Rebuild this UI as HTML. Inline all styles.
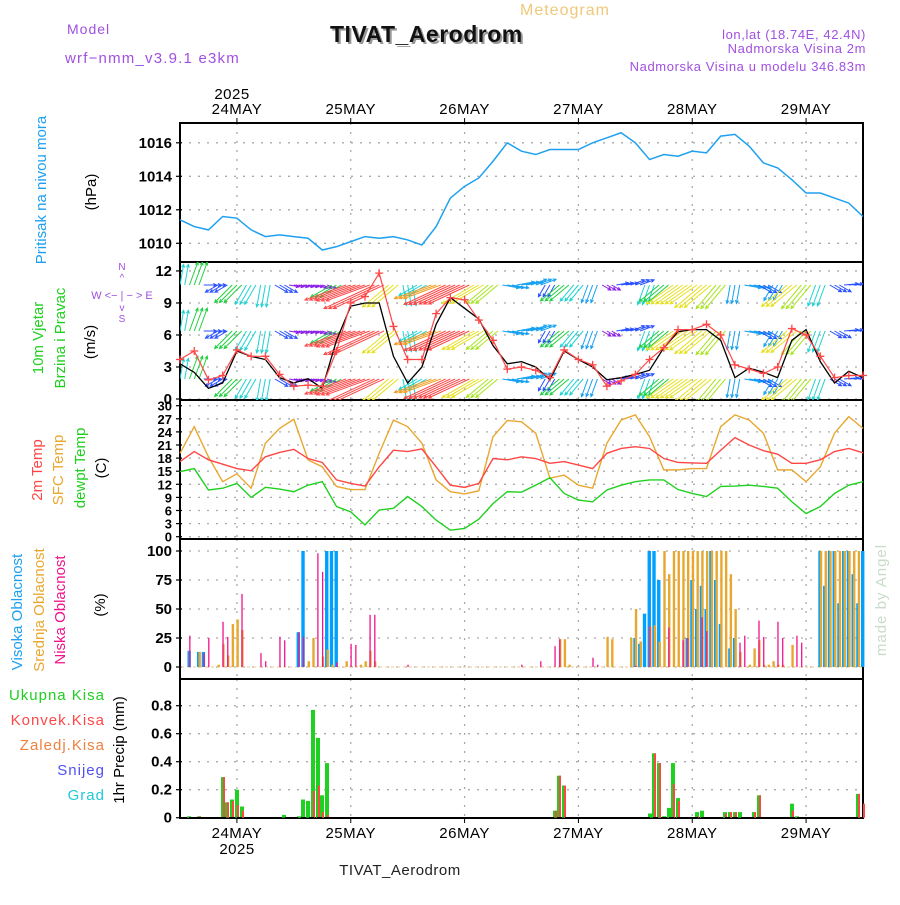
<!DOCTYPE html>
<html><head><meta charset="utf-8"><style>
body{margin:0;background:#fff}
svg text{font-family:"Liberation Sans",sans-serif}
</style></head><body>
<svg id="chart" width="900" height="900" viewBox="0 0 900 900" xmlns="http://www.w3.org/2000/svg">
<defs>
<clipPath id="cw"><rect x="180" y="262" width="683" height="138"/></clipPath>
</defs>
<g id="static"></g>
<g id="marks"></g>
</svg>
<script>
// ---------- DATA ----------
const dayLabels = ["24MAY","25MAY","26MAY","27MAY","28MAY","29MAY"];
const dayHours = [12,36,60,84,108,132];
const pressTicks = [1010,1012,1014,1016];
const windTicks = [0,3,6,9,12];
const tempTicks = [0,3,6,9,12,15,18,21,24,27,30];
const cloudTicks = [0,25,50,75,100];
const precipTicks = [0,0.2,0.4,0.6,0.8];
// 3-hourly series (hour 0..144)
const pressure = [1011.4,1011.0,1010.8,1011.6,1011.5,1010.8,1010.4,1010.5,1010.4,1010.3,1009.6,1009.8,1010.1,1010.4,1010.3,1010.4,1010.2,1009.9,1011.0,1012.7,1013.4,1013.9,1014.9,1016.0,1015.5,1015.3,1015.6,1015.6,1015.6,1016.0,1016.3,1016.6,1016.0,1015.0,1015.3,1015.2,1015.5,1015.4,1016.4,1016.5,1015.8,1014.8,1014.5,1013.8,1013.0,1013.0,1012.7,1012.4,1011.6];
const windSpeed = [3.7,4.5,1.8,2.2,4.6,4.0,4.0,2.3,1.2,1.3,1.2,4.5,9.0,9.6,11.8,6.8,3.7,3.7,8.0,9.5,9.3,7.4,5.5,2.8,3.0,2.7,2.0,4.6,3.7,3.2,1.2,1.7,2.3,3.7,4.8,6.5,6.5,7.0,6.0,3.2,2.8,2.4,3.0,6.6,6.0,4.0,2.0,2.2,2.2];
const windSpeedModel = [3.3,2.5,1.0,1.5,4.5,4.0,3.7,2.0,1.5,1.9,1.0,5.5,8.7,9.0,9.0,4.0,1.5,3.0,7.0,9.5,8.5,7.5,5.0,3.3,3.5,3.0,1.8,4.5,3.7,3.0,1.8,2.0,2.3,2.7,4.8,6.3,6.5,6.5,5.5,2.0,2.9,2.5,2.0,5.5,6.5,3.5,1.5,2.6,2.0];
const windDir = [190,200,270,60,45,30,10,300,280,280,290,60,70,70,65,50,350,60,70,65,65,60,50,280,260,250,30,50,40,20,300,260,250,20,50,55,55,50,40,10,280,300,30,50,40,20,300,265,265];
const temp2m = [17.2,19.5,17.6,16.6,15.6,15.1,18.3,19.3,20.0,17.9,17.0,13.0,12.2,11.6,16.0,19.8,19.5,20.1,16.0,11.8,11.3,12.2,17.9,17.6,18.3,17.9,16.8,17.2,16.4,15.6,19.1,20.2,20.6,20.2,17.9,17.0,16.9,16.8,19.8,22.7,21.0,19.7,18.9,16.8,16.8,17.6,19.5,20.2,19.2];
const tempSfc = [19.1,25.2,18.3,12.6,14.4,11.1,21.4,24.8,26.9,17.6,16.0,11.5,10.8,10.8,19.1,26.7,25.2,21.4,13.0,10.3,9.8,10.5,22.9,26.6,26.3,23.7,13.4,14.1,11.8,11.1,21.4,26.7,27.9,22.9,15.3,15.3,15.6,15.6,25.2,27.9,26.7,23.7,15.3,15.3,12.6,16.0,23.7,27.5,24.8];
const dewpoint = [14.9,15.6,10.7,11.1,12.2,9.0,11.3,10.9,10.3,11.8,12.6,6.9,5.7,2.7,6.1,6.5,9.2,6.9,3.8,1.5,1.9,4.0,7.6,10.3,10.2,11.8,13.5,9.9,8.4,8.0,10.7,11.8,12.6,13.0,13.0,10.8,9.9,9.2,11.5,11.6,11.8,11.5,11.1,8.0,5.3,6.9,9.9,11.8,12.6];
// hourly cloud cover [hour, %]
const cloudHigh = [[2,14],[4,13],[5,13],[25,30],[26,100],[31,100],[32,100],[33,100],[96,25],[97,20],[98,46],[99,100],[100,100],[101,75],[107,25],[108,75],[109,50],[110,70],[111,50],[112,100],[113,75],[114,37],[116,16],[117,25],[135,100],[136,70],[137,100],[138,100],[139,55],[140,100],[141,100],[142,80],[143,55],[144,100]];
const cloudMid = [[4,13],[8,2],[9,20],[10,10],[11,37],[12,41],[13,32],[27,5],[28,25],[30,9],[31,15],[32,2],[35,5],[38,2],[39,5],[40,14],[41,5],[80,24],[81,24],[82,2],[90,26],[91,24],[95,25],[96,50],[97,22],[99,35],[100,36],[101,22],[102,100],[103,80],[104,100],[105,100],[106,100],[107,100],[108,100],[109,100],[110,100],[111,100],[112,100],[113,100],[114,100],[115,100],[116,80],[117,50],[118,13],[120,2],[121,16],[122,23],[123,2],[124,2],[125,5],[126,2],[127,2],[129,19],[135,100],[136,100],[137,100],[138,100],[139,100],[140,100],[141,100],[142,100],[143,100]];
const cloudLow = [[2,27],[5,12],[6,25],[9,39],[10,26],[13,63],[17,12],[18,5],[21,26],[22,23],[25,30],[26,26],[29,98],[30,82],[33,4],[36,20],[37,19],[40,45],[41,45],[48,2],[72,2],[76,5],[79,18],[80,24],[87,8],[88,2],[96,1],[99,35],[103,34],[106,23],[107,25],[110,43],[111,31],[118,21],[119,27],[122,40],[123,26],[126,39],[127,25],[130,27],[131,21]];
// hourly precip [hour, mm]
const precipTotal = [[2,0.01],[4,0.01],[9,0.29],[10,0.11],[11,0.13],[12,0.2],[13,0.08],[22,0.02],[25,0.01],[26,0.13],[27,0.12],[28,0.77],[29,0.57],[30,0.16],[31,0.39],[79,0.05],[80,0.3],[81,0.23],[99,0.03],[100,0.46],[101,0.39],[102,0.01],[103,0.07],[104,0.39],[105,0.14],[109,0.04],[110,0.05],[115,0.04],[116,0.04],[117,0.04],[118,0.04],[121,0.04],[122,0.16],[129,0.1],[130,0.01],[143,0.17]];
const precipConv = [[4,0.01],[9,0.29],[10,0.11],[11,0.12],[12,0.09],[13,0.05],[28,0.19],[29,0.23],[30,0.04],[31,0.02],[79,0.05],[80,0.3],[81,0.23],[100,0.46],[101,0.39],[104,0.24],[105,0.12],[109,0.01],[115,0.03],[116,0.04],[117,0.04],[121,0.04],[122,0.16],[129,0.05],[143,0.17],[144,0.1]];

// ---------- SCALES ----------
const X = h => 180 + h*683/144;
const Yp = v => 243.3 - (v-1010)*16.75;
const Yw = v => 399 - v*10.67;
const Yt = v => 536.7 - v*4.367;
const Yc = v => 667 - v*1.16;
const Yr = v => 817.7 - v*140;
const NS = "http://www.w3.org/2000/svg";
const st = document.getElementById('static');
const mk = document.getElementById('marks');
function el(tag, attrs, parent, txt){
  const e = document.createElementNS(NS, tag);
  for (const k in attrs) e.setAttribute(k, attrs[k]);
  if (txt !== undefined) e.textContent = txt;
  parent.appendChild(e); return e;
}

// ---------- GRID & AXES ----------
const panels = [
  {top:123,bot:262,ticks:pressTicks,Y:Yp,fmt:v=>String(v),name:'pressure'},
  {top:262,bot:400,ticks:windTicks,Y:Yw,fmt:v=>String(v),name:'wind'},
  {top:400,bot:539,ticks:tempTicks,Y:Yt,fmt:v=>String(v),name:'temp'},
  {top:539,bot:679,ticks:cloudTicks,Y:Yc,fmt:v=>String(v),name:'cloud'},
  {top:679,bot:818,ticks:precipTicks,Y:Yr,fmt:v=>v===0?'0':v.toFixed(1),name:'precip'}
];
panels.forEach(p=>{
  p.ticks.forEach(t=>{
    const y = p.Y(t);
    const g = el('line',{x1:180,x2:863,y1:y,y2:y,stroke:'#aaa','stroke-width':1.3,'stroke-dasharray':'2,7'},st);
    
    
    const lb = el('text',{x:172,y:y+5,'text-anchor':'end','font-size':p.name==='temp'?13:15,fill:'#000','font-weight':'bold'},st,p.fmt(t));
    
    
    el('line',{x1:176,x2:182,y1:y,y2:y,stroke:'#000','stroke-width':1.2},st);
  });
  dayHours.forEach(h=>{
    const v = el('line',{x1:X(h),x2:X(h),y1:p.top,y2:p.bot,stroke:'#aaa','stroke-width':1.3,'stroke-dasharray':'2,7'},st);
    
    
  });
  const r = el('rect',{x:180,y:p.top,width:683,height:p.bot-p.top,fill:'none',stroke:'#000','stroke-width':2},st);
  
  
});
dayHours.forEach((h,i)=>{
  const t1 = el('text',{x:X(h),y:114,'text-anchor':'middle','font-size':15,'letter-spacing':0.5,fill:'#000'},st,dayLabels[i]);
  
  
  const t2 = el('text',{x:X(h),y:838,'text-anchor':'middle','font-size':15,'letter-spacing':0.5,fill:'#000'},st,dayLabels[i]);
  
  
  el('line',{x1:X(h),x2:X(h),y1:118,y2:123,stroke:'#000'},st);
  el('line',{x1:X(h),x2:X(h),y1:818,y2:823,stroke:'#000'},st);
});

// ---------- PRESSURE ----------
const pp = el('polyline',{points:pressure.map((v,i)=>X(i*3)+','+Yp(v)).join(' '),fill:'none',stroke:'#1ea0f0','stroke-width':1.5},mk);



// ---------- WIND ----------
const wg = el('g',{'clip-path':'url(#cw)'},mk);
function windColor(s){
  if (s<1.5) return '#8a1ee6'; if (s<2.5) return '#2850ff'; if (s<3.5) return '#14a0f0';
  if (s<4.5) return '#1ed2d2'; if (s<5.5) return '#20d040'; if (s<6.5) return '#a8e41e';
  if (s<7.5) return '#e6e01e'; if (s<8.5) return '#f0a028'; return '#ff4646';
}
const rowY = [285,331,379];
rowY.forEach(ry=>{
  for (let h=0; h<=144; h++){
    const i = Math.round(h/3);
    const s = windSpeed[i], d = windDir[i]*Math.PI/180;
    const L = 5 + 4.3*s;
    const x0 = X(h), y0 = ry;
    const x1 = x0 - Math.sin(d)*L, y1 = y0 + Math.cos(d)*L;
    const ang = Math.atan2(y1-y0, x1-x0);
    const hx1 = x1 - 3.5*Math.cos(ang-0.45), hy1 = y1 - 3.5*Math.sin(ang-0.45);
    const hx2 = x1 - 3.5*Math.cos(ang+0.45), hy2 = y1 - 3.5*Math.sin(ang+0.45);
    const a = el('path',{d:`M${x0},${y0}L${x1},${y1}M${hx1},${hy1}L${x1},${y1}L${hx2},${hy2}`,stroke:windColor(s),'stroke-width':1,fill:'none'},wg);
    
    
  }
});
const wm = el('polyline',{points:windSpeedModel.map((v,i)=>X(i*3)+','+Yw(v)).join(' '),fill:'none',stroke:'#000','stroke-width':1.3},mk);


const ws = el('polyline',{points:windSpeed.map((v,i)=>X(i*3)+','+Yw(v)).join(' '),fill:'none',stroke:'#ff4646','stroke-width':1.2},mk);


windSpeed.forEach((v,i)=>{
  const x=X(i*3), y=Yw(v);
  const m = el('path',{d:`M${x-4},${y}H${x+4}M${x},${y-4}V${y+4}`,stroke:'#ff4646','stroke-width':1.3},mk);
  
  
});

// ---------- TEMPERATURE ----------
[[tempSfc,'#e8a830','sfc-temp-line'],[temp2m,'#ff4646','2m-temp-line'],[dewpoint,'#20d020','dewpoint-line']].forEach(([arr,c,n])=>{
  const l = el('polyline',{points:arr.map((v,i)=>X(i*3)+','+Yt(v)).join(' '),fill:'none',stroke:c,'stroke-width':1.4},mk);
  
  
});

// ---------- CLOUDS ----------
el('line',{x1:181,x2:862,y1:Yc(0),y2:Yc(0),stroke:'#e8c890','stroke-width':1,'stroke-dasharray':'3,3'},mk);
cloudHigh.forEach(([h,v])=>{
  const b = el('rect',{x:X(h)-2,y:Yc(v),width:3.4,height:Yc(0)-Yc(v),fill:'#00a0ff'},mk);
  
  
});
cloudMid.forEach(([h,v])=>{
  const b = el('rect',{x:X(h)-0.5,y:Yc(v),width:2.4,height:Yc(0)-Yc(v),fill:'#e8a830'},mk);
  
  
});
cloudLow.forEach(([h,v])=>{
  const b = el('rect',{x:X(h)-0.3,y:Yc(v),width:1.3,height:Yc(0)-Yc(v),fill:'#f0148c'},mk);
  
  
});

// ---------- PRECIP ----------
precipTotal.forEach(([h,v])=>{
  const b = el('rect',{x:Math.round(X(h))-2,y:Yr(v),width:4,height:Yr(0)-Yr(v),fill:'#20d020'},mk);
  
  
});
precipConv.forEach(([h,v])=>{
  const b = el('rect',{x:Math.round(X(h)),y:Yr(v),width:2,height:Yr(0)-Yr(v),fill:'#ff4646'},mk);
  
  
});
el('line',{x1:181,x2:862,y1:Yr(0),y2:Yr(0),stroke:'#000','stroke-width':1.5,'stroke-dasharray':'5,3'},mk);
</script>
<svg width="900" height="900" style="position:absolute;left:0;top:0;pointer-events:none" xmlns="http://www.w3.org/2000/svg">
<text x="520" y="15" font-size="16" fill="#f0c878" letter-spacing="1">Meteogram</text>
<text x="332" y="44" font-size="23" font-weight="bold" fill="#999" letter-spacing="0.5">TIVAT_Aerodrom</text>
<text x="330" y="42" font-size="23" font-weight="bold" fill="#111" letter-spacing="0.5">TIVAT_Aerodrom</text>
<text x="67" y="34" font-size="14" fill="#a050e0" letter-spacing="1">Model</text>
<text x="65" y="63" font-size="15" fill="#a050e0" letter-spacing="1.2">wrf−nmm_v3.9.1 e3km</text>
<text x="866" y="39" font-size="13" fill="#a050e0" text-anchor="end" letter-spacing="0.6">lon,lat (18.74E, 42.4N)</text>
<text x="866" y="53" font-size="13" fill="#a050e0" text-anchor="end" letter-spacing="0.6">Nadmorska Visina 2m</text>
<text x="866" y="71" font-size="13" fill="#a050e0" text-anchor="end" letter-spacing="0.6">Nadmorska Visina u modelu 346.83m</text>
<text x="232" y="99" font-size="15" text-anchor="middle" letter-spacing="0.5">2025</text>
<text x="237" y="854" font-size="15" text-anchor="middle" letter-spacing="0.5">2025</text>
<text x="400" y="875" font-size="15" text-anchor="middle" fill="#222" font-family="Liberation Serif" letter-spacing="0.5">TIVAT_Aerodrom</text>
<text transform="translate(886,600) rotate(-90)" font-size="15" fill="#c8dcc8" text-anchor="middle" letter-spacing="1">made by Angel</text>
<text transform="translate(46,190) rotate(-90)" font-size="15" fill="#1ea0f0" text-anchor="middle">Pritisak na nivou mora</text>
<text transform="translate(96,192) rotate(-90)" font-size="15" fill="#000" text-anchor="middle">(hPa)</text>
<text transform="translate(43,338) rotate(-90)" font-size="15" fill="#20d020" text-anchor="middle">10m Vjetar</text>
<text transform="translate(65,338) rotate(-90)" font-size="15" fill="#20d020" text-anchor="middle">Brzina i Pravac</text>
<text transform="translate(95,342) rotate(-90)" font-size="15" fill="#000" text-anchor="middle">(m/s)</text>
<g fill="#a050e0" font-size="10">
<text x="122" y="270" text-anchor="middle">N</text>
<text x="122" y="281" text-anchor="middle">^</text>
<text x="122" y="299" text-anchor="middle" font-size="11">W &lt;− | − &gt; E</text>
<text x="122" y="311" text-anchor="middle">v</text>
<text x="122" y="322" text-anchor="middle">S</text>
</g>
<text transform="translate(42,470) rotate(-90)" font-size="15" fill="#ff4646" text-anchor="middle">2m Temp</text>
<text transform="translate(63,470) rotate(-90)" font-size="15" fill="#e8a830" text-anchor="middle">SFC Temp</text>
<text transform="translate(85,468) rotate(-90)" font-size="15" fill="#20d020" text-anchor="middle">dewpt Temp</text>
<text transform="translate(106,468) rotate(-90)" font-size="15" fill="#000" text-anchor="middle">(C)</text>
<text transform="translate(22,612) rotate(-90)" font-size="15" fill="#1ea0f0" text-anchor="middle">Visoka Oblacnost</text>
<text transform="translate(44,610) rotate(-90)" font-size="15" fill="#e8a830" text-anchor="middle">Srednja Oblacnost</text>
<text transform="translate(65,610) rotate(-90)" font-size="15" fill="#f0148c" text-anchor="middle">Niska Oblacnost</text>
<text transform="translate(105,605) rotate(-90)" font-size="15" fill="#000" text-anchor="middle">(%)</text>
<text x="105" y="700" font-size="15" fill="#20d020" text-anchor="end" letter-spacing="1">Ukupna  Kisa</text>
<text x="105" y="725" font-size="15" fill="#ff4646" text-anchor="end" letter-spacing="1">Konvek.Kisa</text>
<text x="105" y="750" font-size="15" fill="#f08040" text-anchor="end" letter-spacing="1">Zaledj.Kisa</text>
<text x="105" y="775" font-size="15" fill="#5050f0" text-anchor="end" letter-spacing="1">Snijeg</text>
<text x="105" y="800" font-size="15" fill="#20c8d8" text-anchor="end" letter-spacing="1">Grad</text>
<text transform="translate(124,750) rotate(-90)" font-size="15" fill="#000" text-anchor="middle">1hr Precip (mm)</text>
</svg>
</body></html>
